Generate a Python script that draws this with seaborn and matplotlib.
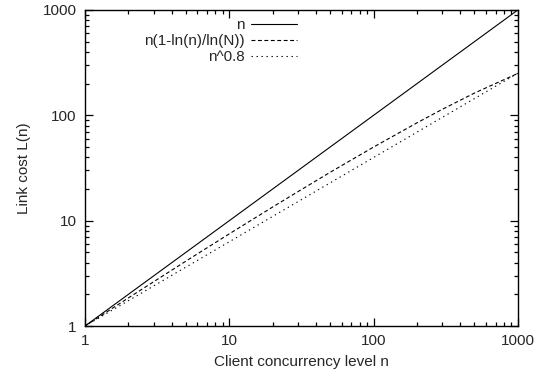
import matplotlib
matplotlib.use("Agg")
import matplotlib.pyplot as plt
import seaborn as sns
import numpy as np
import pandas as pd

# values (log-log axes)
n_linear = [1, 10, 100, 1000]
cost_linear = [1, 10, 100, 1000]

n_log = [1, 2, 3, 5, 10, 20, 30, 50, 100, 200, 300, 500, 1000]
cost_log = [1, 1.85, 2.64, 4.13, 7.5, 13.5, 18.9, 28.8, 50, 84.9, 114.2, 162.6, 250]

n_pow = [1, 10, 100, 1000]
cost_pow = [1, 6.31, 39.8, 251]

labels = ["n", "n(1-ln(n)/ln(N))", "n^0.8"]

sns.set_style("ticks")
plt.rcParams["font.family"] = ["Liberation Sans", "DejaVu Sans"]
plt.rcParams["font.size"] = 11

fig = plt.figure(figsize=(5.51, 3.81), dpi=100)
ax = fig.add_axes([0.154, 0.144, 0.786, 0.830])

lw = 0.8
sns.lineplot(x=n_linear, y=cost_linear, ax=ax, color="black", lw=lw,
             linestyle="-", label=labels[0])
sns.lineplot(x=n_log, y=cost_log, ax=ax, color="black", lw=lw,
             linestyle=(0, (3.5, 2.3)), label=labels[1])
sns.lineplot(x=n_pow, y=cost_pow, ax=ax, color="black", lw=lw,
             linestyle=(0, (1.2, 3.3)), label=labels[2])

ax.set_xscale("log")
ax.set_yscale("log")
ax.set_xlim(1, 1000)
ax.set_ylim(1, 1000)
ax.set_xticks([1, 10, 100, 1000])
ax.set_xticklabels(["1", "10", "100", "1000"])
ax.set_yticks([1, 10, 100, 1000])
ax.set_yticklabels(["1", "10", "100", "1000"])

ax.tick_params(which="both", direction="in", top=True, right=True,
               color="black", width=0.9)
ax.tick_params(which="major", length=6, pad=6)
ax.tick_params(which="minor", length=3)
for sp in ax.spines.values():
    sp.set_linewidth(1.0)
    sp.set_color("black")

ax.set_xlabel("Client concurrency level n", labelpad=5)
ax.set_ylabel("Link cost L(n)", labelpad=8)

leg = ax.legend(loc="upper right", bbox_to_anchor=(0.49, 0.973),
                frameon=False, markerfirst=False,
                handlelength=3.0, handletextpad=0.45, labelspacing=0.12,
                borderaxespad=0, borderpad=0, fontsize=11)

fig.savefig("out.png", dpi=100)
